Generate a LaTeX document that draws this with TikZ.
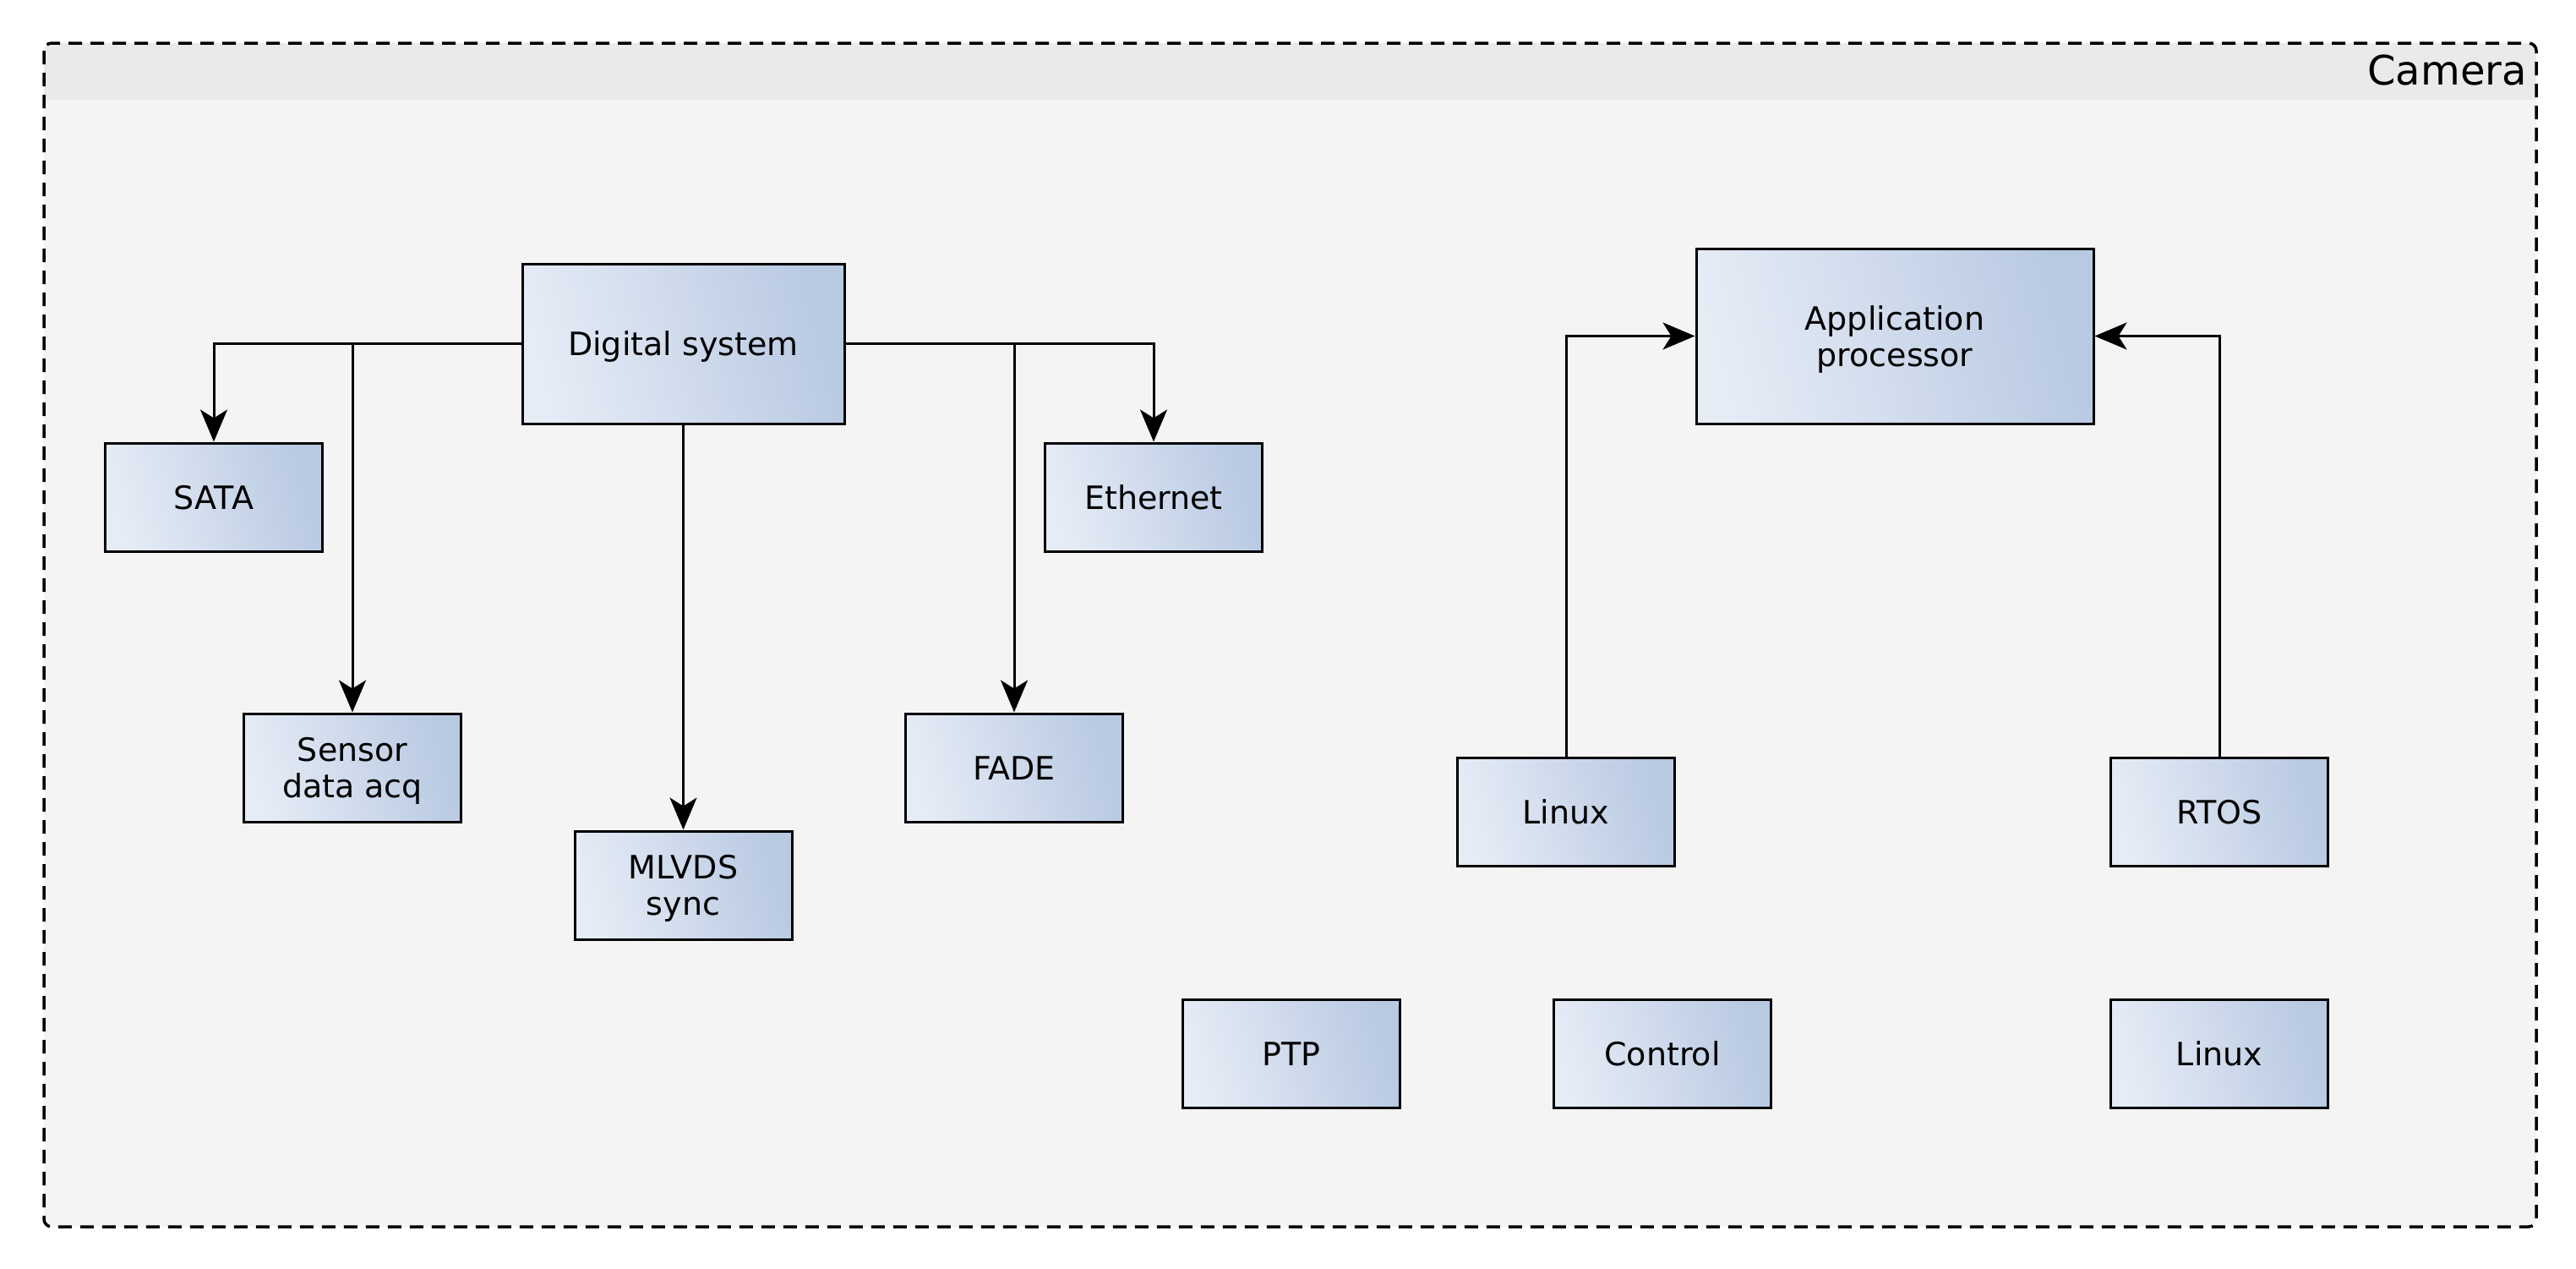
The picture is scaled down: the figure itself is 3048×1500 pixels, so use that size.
\documentclass[tikz,border=0pt]{standalone}
\usepackage{fontspec}
\setmainfont{DejaVu Sans}
\usetikzlibrary{arrows.meta}
\definecolor{bgc}{HTML}{F4F4F4}
\definecolor{hdc}{HTML}{EAEAEA}
\definecolor{gA}{HTML}{E6ECF6}
\definecolor{gB}{HTML}{B8C9E2}
\tikzset{
  blk/.style={draw=black, line width=3pt, left color=gA, right color=gB, shading angle=105,
    minimum width=257pt, minimum height=128pt, inner sep=0pt, align=center,
    font=\fontsize{38}{43}\selectfont, text height=28pt, text depth=0pt},
  twoline/.style={text height=71pt, text depth=0pt},
  arr/.style={line width=3pt, -{Stealth[length=38pt,width=32pt,inset=10pt]}}
}
\begin{document}
\begin{tikzpicture}[x=1pt,y=-1pt]
\useasboundingbox (0,0) rectangle (3048,1500);
% frame
\fill[bgc, rounded corners=9pt] (52,51) rectangle (3001,1451);
\begin{scope}
\clip[rounded corners=9pt] (52,51) rectangle (3001,1451);
\fill[hdc] (52,51) rectangle (3001,118);
\end{scope}
\draw[line width=3.5pt, dash pattern=on 16pt off 10pt, rounded corners=9pt] (52,51) rectangle (3001,1451);
\node[anchor=base east, inner sep=0pt, font=\fontsize{48}{56}\selectfont] (cam) at (2990,100) {Camera};
% nodes
\node[blk, minimum width=381pt, minimum height=189pt] (ds) at (808.5,406.5) {Digital system};
\node[blk] (sata) at (253,588) {SATA};
\node[blk, twoline] (sensor) at (417,908) {Sensor\\data acq};
\node[blk, twoline] (mlvds) at (808.5,1047) {MLVDS\\sync};
\node[blk] (fade) at (1200,908) {FADE};
\node[blk] (eth) at (1365,588) {Ethernet};
\node[blk, twoline, minimum width=470pt, minimum height=207pt] (app) at (2242,397.5) {Application\\processor};
\node[blk] (linuxa) at (1853,960) {Linux};
\node[blk] (rtos) at (2626,960) {RTOS};
\node[blk] (ptp) at (1528,1246) {PTP};
\node[blk] (ctrl) at (1967,1246) {Control};
\node[blk] (linuxb) at (2626,1246) {Linux};
% connectors
\draw[arr] (ds.west) -| (sata.north);
\draw[arr] (ds.west -| sensor.north) -- (sensor.north);
\draw[arr] (ds.east) -| (eth.north);
\draw[arr] (ds.east -| fade.north) -- (fade.north);
\draw[arr] (ds.south) -- (mlvds.north);
\draw[arr] (linuxa.north) |- (app.west);
\draw[arr] (rtos.north) |- (app.east);
\end{tikzpicture}
\end{document}
